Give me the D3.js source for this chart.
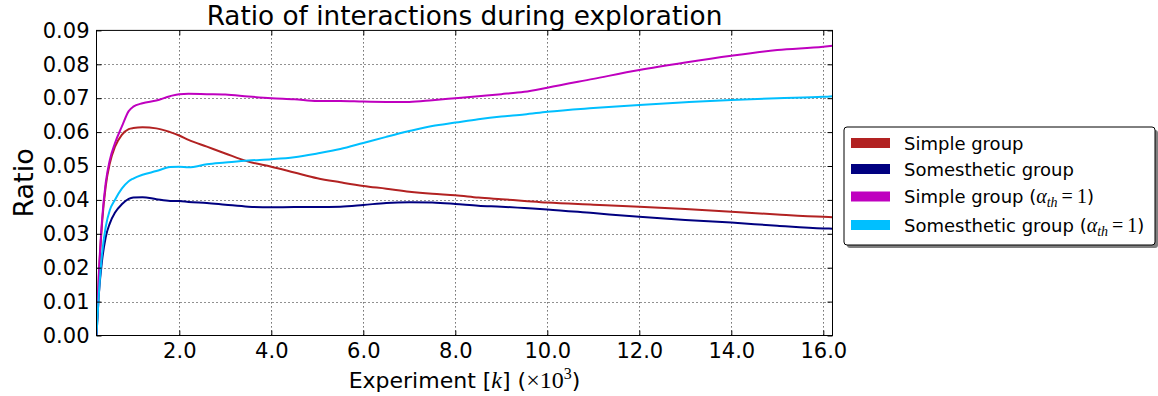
<!DOCTYPE html>
<html>
<head>
<meta charset="utf-8">
<script src="https://cdn.jsdelivr.net/npm/d3@7"></script>
<style>
  html, body { margin: 0; padding: 0; background: #fff; }
  svg { display: block; font-family: "DejaVu Sans", sans-serif; }
</style>
</head>
<body>
<svg id="chart" width="1158" height="396"></svg>
<script>
// Experiment count (thousands) at which the ratios were sampled
const experiments = [0.2, 0.25, 0.32, 0.4, 0.49, 0.6, 0.75, 0.9, 1.0, 1.2, 1.5, 1.8, 2.0, 2.2, 2.6, 3.0, 3.5, 4.0, 4.5, 5.0, 5.5, 6.0, 6.5, 7.0, 7.5, 8.0, 8.5, 9.0, 9.5, 10.0, 11.0, 12.0, 13.0, 14.0, 15.0, 16.0, 16.2];

const simpleGroup = [0, 0.017, 0.033, 0.044, 0.0508, 0.0556, 0.0592, 0.0609, 0.0612, 0.0614, 0.0611, 0.0600, 0.0590, 0.0577, 0.0557, 0.0537, 0.0513, 0.0498, 0.0481, 0.0464, 0.0452, 0.0441, 0.0433, 0.0424, 0.0418, 0.0414, 0.0407, 0.0402, 0.0397, 0.0392, 0.0386, 0.0380, 0.0373, 0.0365, 0.0357, 0.0350, 0.0349];

const somestheticGroup = [0, 0.012, 0.022, 0.029, 0.0331, 0.0362, 0.0387, 0.0403, 0.0407, 0.0408, 0.0402, 0.0397, 0.0397, 0.0394, 0.0391, 0.0386, 0.0380, 0.0378, 0.0379, 0.0379, 0.0380, 0.0385, 0.0391, 0.0393, 0.0392, 0.0388, 0.0383, 0.0380, 0.0376, 0.0372, 0.0361, 0.0350, 0.0341, 0.0333, 0.0324, 0.0316, 0.0315];

const simpleGroupAlpha = [0, 0.018, 0.034, 0.045, 0.0518, 0.0567, 0.0616, 0.0662, 0.0675, 0.0685, 0.0693, 0.0706, 0.0712, 0.0713, 0.0712, 0.0711, 0.0705, 0.0700, 0.0697, 0.0692, 0.0692, 0.0690, 0.0689, 0.0689, 0.0694, 0.0700, 0.0706, 0.0712, 0.0719, 0.0731, 0.0757, 0.0783, 0.0805, 0.0825, 0.0842, 0.0852, 0.0855];

const somestheticGroupAlpha = [0, 0.012, 0.024, 0.032, 0.037, 0.0400, 0.0433, 0.0455, 0.0463, 0.0474, 0.0485, 0.0497, 0.0498, 0.0496, 0.0505, 0.0510, 0.0516, 0.0520, 0.0526, 0.0537, 0.0550, 0.0568, 0.0586, 0.0603, 0.0618, 0.0628, 0.0638, 0.0646, 0.0652, 0.0660, 0.0671, 0.0680, 0.0688, 0.0695, 0.0700, 0.0704, 0.0706];

const xTicks = [2, 4, 6, 8, 10, 12, 14, 16];
const yTicks = [0, 0.01, 0.02, 0.03, 0.04, 0.05, 0.06, 0.07, 0.08, 0.09];

const series = [
  { name: "Simple group", alpha: false, color: "#b22222", values: simpleGroup },
  { name: "Somesthetic group", alpha: false, color: "#000080", values: somestheticGroup },
  { name: "Simple group", alpha: true, color: "#bf00bf", values: simpleGroupAlpha },
  { name: "Somesthetic group", alpha: true, color: "#00bfff", values: somestheticGroupAlpha }
];

const svg = d3.select("#chart");
const plot = { left: 96.5, right: 832.5, top: 30.4, bottom: 335.5 };

const x = d3.scaleLinear().domain([0.2, 16.2]).range([plot.left, plot.right]);
const y = d3.scaleLinear().domain([0, 0.09]).range([plot.bottom, plot.top]);

const mathFont = "'Liberation Serif', 'DejaVu Serif', serif";

// dotted grid
const grid = svg.append("g").attr("stroke", "#222").attr("stroke-width", 1)
  .attr("stroke-dasharray", "1,3");
grid.selectAll("line.gx").data(xTicks).join("line")
  .attr("x1", d => Math.round(x(d)) + 0.5).attr("x2", d => Math.round(x(d)) + 0.5)
  .attr("y1", plot.top).attr("y2", plot.bottom);
grid.selectAll("line.gy").data(yTicks.slice(1, -1)).join("line")
  .attr("y1", d => Math.round(y(d)) + 0.5).attr("y2", d => Math.round(y(d)) + 0.5)
  .attr("x1", plot.left).attr("x2", plot.right);

// series lines, clipped to the axes box
svg.append("clipPath").attr("id", "plotclip").append("rect")
  .attr("x", plot.left).attr("y", plot.top)
  .attr("width", plot.right - plot.left).attr("height", plot.bottom - plot.top);

const line = d3.line()
  .x((d, i) => x(experiments[i]))
  .y(d => y(d))
  .curve(d3.curveMonotoneX);

svg.append("g").attr("clip-path", "url(#plotclip)")
  .selectAll("path").data(series).join("path")
  .attr("d", s => line(s.values))
  .attr("fill", "none")
  .attr("stroke", s => s.color)
  .attr("stroke-width", 2)
  .attr("stroke-linejoin", "round");

// axes with inward ticks on all four sides
const fmtX = d3.format(".1f");
const fmtY = d3.format(".2f");

const gx = svg.append("g").attr("transform", `translate(0,${plot.bottom})`)
  .call(d3.axisBottom(x).tickValues(xTicks).tickFormat(fmtX).tickSizeInner(-5).tickSizeOuter(0).tickPadding(8));
const gxTop = svg.append("g").attr("transform", `translate(0,${plot.top})`)
  .call(d3.axisTop(x).tickValues(xTicks).tickFormat("").tickSizeInner(-5).tickSizeOuter(0));
const gy = svg.append("g").attr("transform", `translate(${plot.left},0)`)
  .call(d3.axisLeft(y).tickValues(yTicks).tickFormat(fmtY).tickSizeInner(-5).tickSizeOuter(0).tickPadding(7));
const gyRight = svg.append("g").attr("transform", `translate(${plot.right},0)`)
  .call(d3.axisRight(y).tickValues(yTicks).tickFormat("").tickSizeInner(-5).tickSizeOuter(0));

[gx, gxTop, gy, gyRight].forEach(g => {
  g.select(".domain").remove();
  g.selectAll(".tick line").attr("stroke", "#000").attr("stroke-width", 1);
  g.selectAll(".tick text").attr("fill", "#000").attr("font-size", 21)
    .attr("font-family", "'DejaVu Sans', sans-serif");
});

// axes frame
svg.append("rect")
  .attr("x", plot.left).attr("y", plot.top)
  .attr("width", plot.right - plot.left).attr("height", plot.bottom - plot.top)
  .attr("fill", "none").attr("stroke", "#000").attr("stroke-width", 1);

// title
svg.append("text")
  .attr("x", (plot.left + plot.right) / 2).attr("y", 25)
  .attr("text-anchor", "middle").attr("font-size", 26.3)
  .text("Ratio of interactions during exploration");

// y label
svg.append("text")
  .attr("transform", `translate(33,${(plot.top + plot.bottom) / 2}) rotate(-90)`)
  .attr("text-anchor", "middle").attr("font-size", 27)
  .text("Ratio");

// x label with math parts
const xl = svg.append("text")
  .attr("x", (plot.left + plot.right) / 2).attr("y", 388)
  .attr("text-anchor", "middle").attr("font-size", 22);
xl.append("tspan").text("Experiment [");
xl.append("tspan").attr("font-family", mathFont).attr("font-style", "italic").attr("font-size", 24).text("k");
xl.append("tspan").text("] (");
xl.append("tspan").attr("font-family", mathFont).attr("font-size", 24).text("\u00d710");
xl.append("tspan").attr("font-family", mathFont).attr("font-size", 16).attr("dy", -9).text("3");
xl.append("tspan").attr("dy", 9).text(")");

// legend
const legend = { x: 844, y: 127, w: 311, h: 118 };
svg.append("rect")
  .attr("x", legend.x + 3).attr("y", legend.y + 3)
  .attr("width", legend.w).attr("height", legend.h)
  .attr("rx", 3).attr("fill", "#7f7f7f");
svg.append("rect")
  .attr("x", legend.x).attr("y", legend.y)
  .attr("width", legend.w).attr("height", legend.h)
  .attr("rx", 3).attr("fill", "#fff").attr("stroke", "#000").attr("stroke-width", 1);

const rowY = [143, 169, 196.5, 225];
const rows = svg.append("g").selectAll("g").data(series).join("g")
  .attr("transform", (s, i) => `translate(${legend.x},${rowY[i]})`);
rows.append("rect")
  .attr("x", 7).attr("y", -5).attr("width", 39).attr("height", 10)
  .attr("fill", s => s.color);
rows.each(function (s) {
  const t = d3.select(this).append("text")
    .attr("x", 60).attr("y", 6.5).attr("font-size", 18);
  t.append("tspan").text(s.name);
  if (s.alpha) {
    t.append("tspan").text(" (");
    t.append("tspan").attr("font-family", mathFont).attr("font-style", "italic").attr("font-size", 20).text("\u03b1");
    t.append("tspan").attr("font-family", mathFont).attr("font-style", "italic").attr("font-size", 14).attr("dy", 4).text("th");
    t.append("tspan").attr("font-family", mathFont).attr("font-size", 20).attr("dy", -4).text("\u2009=\u20091");
    t.append("tspan").text(")");
  }
});
</script>
</body>
</html>
